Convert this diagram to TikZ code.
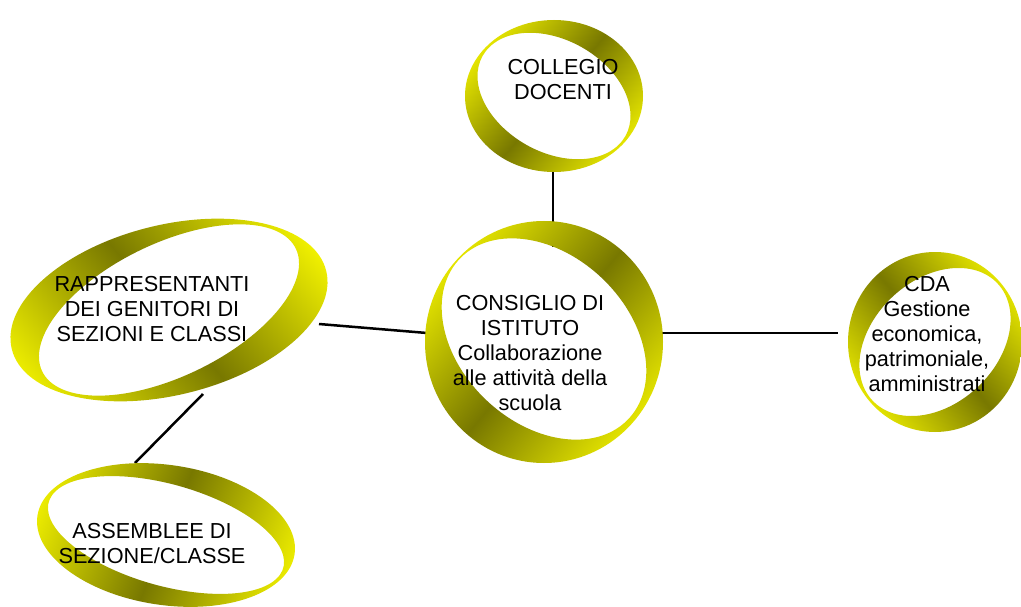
\documentclass[tikz,border=0pt]{standalone}
\usepackage{fontspec}
\setmainfont{Liberation Sans}
\definecolor{ringlight}{RGB}{240,240,0}
\definecolor{ringdark}{RGB}{120,120,0}
\pgfdeclarehorizontalshading{ringshade}{100bp}{color(0bp)=(ringlight); color(22bp)=(ringlight); color(50bp)=(ringdark); color(78bp)=(ringlight); color(100bp)=(ringlight)}

\begin{document}
\begin{tikzpicture}[x=1pt, y=-1pt,
    ring/.style={shading=ringshade, even odd rule},
    ringtext/.style={anchor=north, align=center, inner sep=0pt, font=\fontsize{21.7}{25}\selectfont},
    link/.style={line width=2.5pt}]
    \useasboundingbox (0,0) rectangle (1021,607);

    % ends of the connectors
    \coordinate (collegio-s) at (553,171);
    \coordinate (consiglio-n) at (553,247);
    \coordinate (consiglio-w) at (427,333);
    \coordinate (consiglio-e) at (660,333);
    \coordinate (cda-w) at (838,333);
    \coordinate (genitori-e) at (319,324);
    \coordinate (genitori-s) at (203,394);
    \coordinate (assemblee-n) at (135,463);

    % connectors first, the rings hide their ends
    \draw[link] (collegio-s) -- (consiglio-n);
    \draw[link] (genitori-e) -- (consiglio-w);
    \draw[link] (consiglio-e) -- (cda-w);
    \draw[link] (genitori-s) -- (assemblee-n);

    % rings
    \begin{scope}[shift={(554,96)}]
        \shade[ring, shading angle=-40] (0,0) ellipse (89 and 76)
            {[xscale=89, yscale=76, rotate=-42] (0,0) ellipse (0.97 and 0.70)};
    \end{scope}
    \begin{scope}[shift={(544,342)}]
        \shade[ring, shading angle=-40] (0,0) ellipse (119 and 121)
            {[shift={(0,-3)}, xscale=119, yscale=121, rotate=-42] (0,0) ellipse (0.97 and 0.70)};
    \end{scope}
    \begin{scope}[shift={(169,310)}, rotate=14]
        \shade[ring, shading angle=40] (0,0) ellipse (162 and 85)
            {[xscale=162, yscale=85, rotate=43] (0,0) ellipse (0.97 and 0.70)};
    \end{scope}
    \begin{scope}[shift={(166,535)}, rotate=-8.5]
        \shade[ring, shading angle=-22] (0,0) ellipse (130 and 70)
            {[xscale=130, yscale=70, rotate=-24] (0,0) ellipse (0.97 and 0.70)};
    \end{scope}
    \begin{scope}[shift={(935,342)}]
        \shade[ring, shading angle=40] (0,0) ellipse (87 and 90)
            {[xscale=87, yscale=90, rotate=40] (0,0) ellipse (0.97 and 0.70)};
    \end{scope}

    % texts
    \node[ringtext] (collegio) at (563,59) {COLLEGIO\\DOCENTI};
    \node[ringtext] (consiglio) at (530,294.8) {CONSIGLIO DI\\ISTITUTO\\Collaborazione\\alle attività della\\scuola};
    \node[ringtext] (genitori) at (152,275.8) {RAPPRESENTANTI\\DEI GENITORI DI\\SEZIONI E CLASSI};
    \node[ringtext] (assemblee) at (152,522.8) {ASSEMBLEE DI\\SEZIONE/CLASSE};
    \node[ringtext] (cda) at (927,275.8) {CDA\\Gestione\\economica,\\patrimoniale,\\amministrati};
\end{tikzpicture}
\end{document}
